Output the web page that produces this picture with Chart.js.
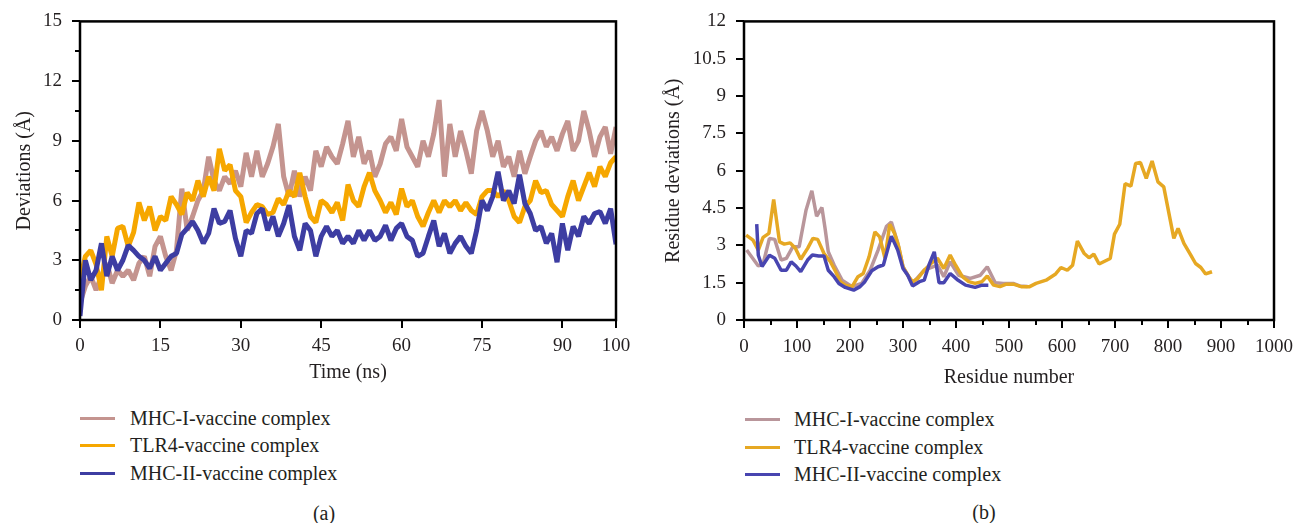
<!DOCTYPE html>
<html><head><meta charset="utf-8">
<script src="https://cdn.jsdelivr.net/npm/chart.js@4.4.1/dist/chart.umd.min.js"></script>
<style>
body{margin:0;background:#fff;width:1301px;height:523px;position:relative;overflow:hidden;font-family:"Liberation Serif",serif;color:#231f20;}
canvas{position:absolute;top:0;}
#cA{left:0}
#cB{left:650px}
.item{position:absolute;white-space:nowrap;height:24px;line-height:24px;font-size:20px;}
.sw{position:absolute;height:3px;width:35px}
.cap{position:absolute;font-size:20px;transform:translate(-50%,-50%);white-space:nowrap;}
</style></head>
<body>
<canvas id="cA" width="650" height="400"></canvas>
<canvas id="cB" width="651" height="400"></canvas>
<div id="legA"></div>
<div id="legB"></div>
<div class="cap" style="left:324px;top:513px">(a)</div>
<div class="cap" style="left:984px;top:512px">(b)</div>
<script>
// ---------- Panel (a): RMSD vs time ----------
const seriesNames = ['MHC-I-vaccine complex','TLR4-vaccine complex','MHC-II-vaccine complex'];
const timeNs = Array.from({length:101},(_, i)=>i);
const mhc1Rmsd = [0.85,1.7,2.2,1.5,2.2,2.85,1.85,2.5,2.2,2.5,2.0,2.85,3.2,2.2,3.7,4.2,3.2,2.5,3.5,6.6,
 4.5,5.2,6.0,6.5,8.2,7.0,6.5,7.2,6.85,7.5,6.7,8.4,7.2,8.5,7.2,7.85,8.7,9.85,7.2,6.2,
 7.5,6.2,7.2,6.5,8.5,7.7,8.7,8.2,7.85,8.85,10.0,8.2,9.2,7.85,8.5,7.2,7.85,8.85,9.2,8.5,
 10.1,8.7,8.2,7.7,9.0,8.2,9.35,11.05,7.2,9.85,8.2,9.5,8.5,7.35,9.5,10.5,9.5,8.2,9.0,7.7,
 8.2,7.2,8.5,7.35,8.2,9.0,9.5,8.7,9.2,8.5,9.35,10.0,8.5,9.0,10.5,9.5,8.2,9.2,9.7,8.35,9.7];
const tlr4Rmsd = [2.0,3.2,3.5,2.8,1.5,4.2,3.2,4.6,4.7,3.7,4.4,5.9,5.0,5.7,4.5,5.2,5.0,6.2,5.8,5.3,
 6.4,6.0,7.0,6.2,7.2,6.5,8.6,7.5,7.8,6.5,6.2,4.9,5.4,5.8,5.7,5.3,5.4,6.1,5.8,6.5,
 6.2,7.4,6.2,5.2,4.9,6.0,5.8,5.4,5.9,5.0,6.8,6.0,5.7,6.7,7.4,6.5,6.0,5.4,5.9,5.3,
 6.6,5.7,6.0,5.2,4.7,5.4,6.0,5.4,6.0,5.7,6.0,5.5,5.9,5.5,5.3,6.2,6.5,6.5,6.2,6.5,
 6.0,5.2,4.9,5.7,6.0,7.0,6.4,6.5,5.8,5.5,5.2,6.2,7.0,6.0,6.7,7.4,6.7,7.7,7.2,7.9,8.2];
const mhc2Rmsd = [0.2,3.0,2.0,2.5,3.85,2.2,3.2,2.5,3.0,3.75,3.5,3.2,3.0,2.6,3.2,2.5,2.85,3.2,3.35,4.3,
 4.6,4.95,4.5,3.85,4.35,5.6,4.85,4.95,5.5,4.1,3.2,4.5,4.35,5.35,5.6,4.5,5.2,4.2,4.85,5.77,
 4.2,3.5,4.85,4.5,3.2,4.2,4.7,4.2,4.5,3.85,4.2,3.85,4.5,4.0,4.5,4.0,4.2,4.75,4.0,4.6,
 4.85,4.2,4.0,3.2,3.35,4.2,5.0,3.7,4.35,3.35,3.85,4.2,3.7,3.35,4.5,6.0,5.5,6.2,7.45,6.0,
 6.5,5.85,7.3,5.85,5.35,4.5,4.7,3.85,4.35,2.9,4.85,3.5,4.7,4.2,5.2,4.85,5.35,5.45,4.85,5.6,3.8];
const timeTicks = [0,15,30,45,60,75,90,100];
const rmsdTicks = [0,3,6,9,12,15];
const rmsdMinor = [1.5,4.5,7.5,10.5,13.5];

// ---------- Panel (b): RMSF vs residue ----------
const mhc1Res = [5,27,36,48,58,70,80,92,104,117,128,137,147,153,159,170,185,204,222,238,253,269,278,290,300,318,340,365,377,389,405,427,446,459,474,489,508,520,535];
const mhc1Rmsf = [2.81,2.17,2.25,3.28,3.24,2.41,2.48,2.94,2.94,4.41,5.19,4.17,4.52,3.68,2.74,2.21,1.6,1.34,1.47,2.0,2.81,3.77,3.94,3.1,2.14,1.47,2.0,2.21,1.74,2.34,1.8,1.67,1.8,2.14,1.5,1.47,1.47,1.37,1.35];
const tlr4Res = [4,17,27,36,47,56,67,76,87,97,107,120,130,139,151,163,173,182,191,204,215,225,236,247,256,266,275,284,292,300,309,318,328,340,353,365,377,389,399,412,424,436,449,459,471,483,495,508,523,539,551,570,588,598,610,620,629,642,651,660,670,691,699,709,719,730,739,748,759,770,781,792,811,819,830,843,852,862,871,883];
const tlr4Rmsf = [3.41,3.21,2.81,3.32,3.48,4.84,3.14,3.05,3.1,2.88,2.44,2.88,3.28,3.24,2.67,2.34,1.94,1.54,1.4,1.34,1.74,1.87,2.54,3.54,3.34,2.48,3.85,3.48,2.94,2.14,1.8,1.54,1.67,2.0,2.27,2.48,2.07,2.61,2.21,1.74,1.54,1.47,1.54,1.77,1.4,1.34,1.44,1.44,1.34,1.34,1.47,1.6,1.85,2.11,2.0,2.2,3.17,2.67,2.5,2.65,2.25,2.47,3.45,3.85,5.48,5.38,6.29,6.33,5.69,6.39,5.55,5.35,3.28,3.68,3.08,2.61,2.27,2.11,1.85,1.94];
const mhc2Res = [24,27,34,48,58,70,80,89,98,107,120,129,141,151,159,170,179,191,207,219,228,241,253,263,278,290,300,309,318,331,340,349,359,368,377,389,402,418,436,449,461];
const mhc2Rmsf = [3.85,2.6,2.15,2.6,2.48,2.0,2.0,2.34,2.17,1.94,2.41,2.61,2.57,2.57,2.0,1.74,1.47,1.31,1.2,1.34,1.54,1.98,2.14,2.21,3.37,2.81,2.07,1.8,1.37,1.54,1.6,2.21,2.74,1.5,1.5,1.87,1.63,1.4,1.31,1.4,1.4];
const residueTicks = [0,100,200,300,400,500,600,700,800,900,1000];
const residueMinor = [50,150,250,350,450,550,650,750,850,950];
const rmsfTicks = [0,1.5,3,4.5,6,7.5,9,10.5,12];

const colorsA = ['#c4948f','#f6a700','#3d3da2'];
const colorsB = ['#b9969b','#e6a823','#4845b0'];

const TXT = '#231f20';
const framePlugin = {
  id:'frame',
  afterDraw(chart, args, opts){
    const {ctx, chartArea:{left,top,right,bottom}} = chart;
    const xs = chart.scales.x, ys = chart.scales.y;
    ctx.save();
    ctx.strokeStyle='#000';
    ctx.lineWidth=2;
    (opts.minorX||[]).forEach(v=>{const p=Math.round(xs.getPixelForValue(v)); ctx.beginPath(); ctx.moveTo(p,bottom); ctx.lineTo(p,bottom+5); ctx.stroke();});
    (opts.minorY||[]).forEach(v=>{const p=Math.round(ys.getPixelForValue(v)); ctx.beginPath(); ctx.moveTo(left,p); ctx.lineTo(left-5,p); ctx.stroke();});
    ctx.lineWidth=2.5;
    ctx.strokeRect(left,top,right-left,bottom-top);
    ctx.restore();
  }
};

function makeChart(id, cfg){
  return new Chart(document.getElementById(id), {
    type:'line',
    data:{datasets:cfg.datasets},
    options:{
      responsive:false, animation:false, devicePixelRatio:1,
      layout:{padding:cfg.padding},
      plugins:{legend:{display:false}, tooltip:{enabled:false}, frame:{minorX:cfg.minorX, minorY:cfg.minorY}},
      elements:{point:{radius:0}, line:{tension:0}},
      scales:{
        x:{type:'linear', min:cfg.xMin, max:cfg.xMax,
           afterBuildTicks:s=>{s.ticks=cfg.xTicks.map(v=>({value:v}));},
           afterFit:s=>{s.height=cfg.xH;},
           grid:{drawOnChartArea:false, drawTicks:true, tickLength:8, color:'#000', lineWidth:2},
           border:{display:false},
           ticks:{autoSkip:false, maxRotation:0, padding:cfg.xPad, color:TXT, font:{family:'Liberation Serif', size:19}, callback:v=>String(v)},
           title:{display:true, text:cfg.xTitle, color:TXT, font:{family:'Liberation Serif', size:20}, padding:{top:0,bottom:0}}
        },
        y:{type:'linear', min:cfg.yMin, max:cfg.yMax,
           afterBuildTicks:s=>{s.ticks=cfg.yTicks.map(v=>({value:v}));},
           afterFit:s=>{s.width=cfg.yW;},
           grid:{drawOnChartArea:false, drawTicks:true, tickLength:8, color:'#000', lineWidth:2},
           border:{display:false},
           ticks:{padding:10, color:TXT, font:{family:'Liberation Serif', size:19}, callback:v=>String(v)},
           title:{display:true, text:cfg.yTitle, color:TXT, font:{family:'Liberation Serif', size:20}, padding:{top:cfg.yTitlePad,bottom:0}}
        }
      }
    },
    plugins:[framePlugin]
  });
}

function ds(label, xs, ys, color, width, order){
  return {label, data: xs.map((x,i)=>({x, y: ys[i]})), borderColor: color, backgroundColor: color, borderWidth: width, order, fill:false, borderJoinStyle:'bevel'};
}

makeChart('cA', {
  datasets:[
    ds(seriesNames[0], timeNs, mhc1Rmsd, colorsA[0], 5, 2),
    ds(seriesNames[1], timeNs, tlr4Rmsd, colorsA[1], 5, 1),
    ds(seriesNames[2], timeNs, mhc2Rmsd, colorsA[2], 5, 0)
  ],
  padding:{top:21, right:34, bottom:15, left:0},
  xMin:0, xMax:100, xTicks:timeTicks, xH:65, xPad:7, xTitle:'Time (ns)',
  yMin:0, yMax:15, yTicks:rmsdTicks, yW:80, yTitle:'Deviations (Å)', yTitlePad:13,
  minorX:[], minorY:rmsdMinor
});

makeChart('cB', {
  datasets:[
    ds(seriesNames[0], mhc1Res, mhc1Rmsf, colorsB[0], 3.5, 2),
    ds(seriesNames[1], tlr4Res, tlr4Rmsf, colorsB[1], 3.5, 1),
    ds(seriesNames[2], mhc2Res, mhc2Rmsf, colorsB[2], 3.5, 0)
  ],
  padding:{top:21, right:20, bottom:10, left:0},
  xMin:0, xMax:1000, xTicks:residueTicks, xH:70, xPad:8, xTitle:'Residue number',
  yMin:0, yMax:12, yTicks:rmsfTicks, yW:94, yTitle:'Residue deviations (Å)', yTitlePad:12,
  minorX:residueMinor, minorY:[]
});

function legend(id, colors, swLeft, textLeft, ys){
  const el = document.getElementById(id);
  seriesNames.forEach((n,i)=>{
    const sw = document.createElement('div');
    sw.className='sw'; sw.style.background=colors[i];
    sw.style.left=swLeft+'px'; sw.style.top=(ys[i]-1)+'px';
    el.appendChild(sw);
    const t = document.createElement('div');
    t.className='item'; t.textContent=n;
    t.style.left=textLeft+'px'; t.style.top=(ys[i]-12)+'px';
    el.appendChild(t);
  });
}
legend('legA', colorsA, 80, 130, [418,445,473]);
legend('legB', colorsB, 745, 794, [419,447,474]);
</script>
</body></html>
